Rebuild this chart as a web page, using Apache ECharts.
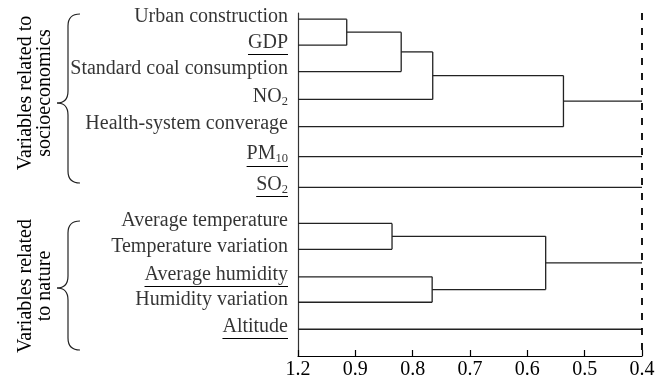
<!DOCTYPE html>
<html>
<head>
<meta charset="utf-8">
<script src="https://cdn.jsdelivr.net/npm/echarts@6/dist/echarts.min.js"></script>
<style>
html,body{margin:0;padding:0;background:#fff;}
#chart{width:658px;height:384px;}
</style>
</head>
<body>
<div id="chart"></div>
<script>
// ---------- data ----------
// leaf labels (text after "_" is a subscript)
const leafLabels = ['Urban construction', 'GDP', 'Standard coal consumption', 'NO_2',
  'Health-system converage', 'PM_10', 'SO_2', 'Average temperature',
  'Temperature variation', 'Average humidity', 'Humidity variation', 'Altitude'];
const leafUnderlined = [false, true, false, false, false, true, true, false, false, true, false, true];
// vertical position of each leaf (row units, top = 0)
const leafRows = [0.23, 1.19, 2.17, 3.20, 4.21, 5.32, 6.46, 7.79, 8.75, 9.77, 10.71, 11.71];
const rowMax = 12.7;
// merges: [childA, childB, height]; new clusters get ids 12, 13, ...
const merges = [
  [0, 1, 0.915],
  [12, 2, 0.820],
  [13, 3, 0.765],
  [14, 4, 0.537],
  [7, 8, 0.836],
  [9, 10, 0.766],
  [16, 17, 0.568]
];
const leafHeight = 1.0;   // leaf level, shown as "1.2" on the broken axis
const cutHeight = 0.4;    // cut-off (dashed line)
const xTickLabels = ['1.2', '0.9', '0.8', '0.7', '0.6', '0.5', '0.4'];
const groupTitles = ['Variables related to\nsocioeconomics', 'Variables related\nto nature'];

// ---------- build dendrogram segments ----------
const nodeX = leafRows.map(() => leafHeight);
const nodeY = leafRows.slice();
const used = new Set();
const segments = [];
merges.forEach(([a, b, h]) => {
  segments.push([nodeX[a], nodeY[a], h, nodeY[a]]);
  segments.push([nodeX[b], nodeY[b], h, nodeY[b]]);
  segments.push([h, nodeY[a], h, nodeY[b]]);
  used.add(a); used.add(b);
  nodeX.push(h);
  nodeY.push((nodeY[a] + nodeY[b]) / 2);
});
for (let i = 0; i < nodeX.length; i++) {
  if (!used.has(i)) segments.push([nodeX[i], nodeY[i], cutHeight, nodeY[i]]);
}

const FONT = '"Liberation Serif", "Times New Roman", serif';
const FS = 20;
const SUB_FS = 12.5;
const INK = '#000';
const LINE = '#222';

function splitLabel(s) {
  const k = s.indexOf('_');
  return k < 0 ? [s, ''] : [s.slice(0, k), s.slice(k + 1)];
}
const measureCtx = document.createElement('canvas').getContext('2d');
function textWidth(s, size) {
  measureCtx.font = size + 'px ' + FONT;
  return measureCtx.measureText(s).width;
}

// curly brace decoration built from simple graphic elements
function brace(xEnd, xMid, xTip, top, tip, bottom) {
  const st = {fill: null, stroke: '#222', lineWidth: 1.2};
  const r = 12;
  return {
    type: 'group',
    children: [
      {type: 'bezierCurve', shape: {x1: xEnd, y1: top, x2: xMid, y2: top + r, cpx1: xMid, cpy1: top}, style: st},
      {type: 'line', shape: {x1: xMid, y1: top + r, x2: xMid, y2: tip - r}, style: st},
      {type: 'bezierCurve', shape: {x1: xMid, y1: tip - r, x2: xTip, y2: tip, cpx1: xMid, cpy1: tip}, style: st},
      {type: 'bezierCurve', shape: {x1: xTip, y1: tip, x2: xMid, y2: tip + r, cpx1: xMid, cpy1: tip}, style: st},
      {type: 'line', shape: {x1: xMid, y1: tip + r, x2: xMid, y2: bottom - r}, style: st},
      {type: 'bezierCurve', shape: {x1: xMid, y1: bottom - r, x2: xEnd, y2: bottom, cpx1: xMid, cpy1: bottom}, style: st}
    ]
  };
}

const chart = echarts.init(document.getElementById('chart'));

const option = {
  animation: false,
  backgroundColor: '#fff',
  grid: {left: 298, right: 16, top: 13, bottom: 28, containLabel: false},
  xAxis: {
    type: 'value',
    min: 0.4, max: 1.0, interval: 0.1, inverse: true,
    axisLine: {show: true, onZero: false, lineStyle: {color: INK, width: 1.2}},
    axisTick: {show: true, inside: true, length: 6, lineStyle: {color: INK, width: 1.2}},
    splitLine: {show: false},
    axisLabel: {
      margin: 4, color: INK, fontSize: FS, fontFamily: FONT,
      formatter: v => xTickLabels[Math.round((1.0 - v) * 10)]
    }
  },
  yAxis: {
    type: 'value', min: 0, max: rowMax, inverse: true,
    axisLine: {show: true, onZero: false, lineStyle: {color: '#333', width: 1.2}},
    axisTick: {show: false}, axisLabel: {show: false}, splitLine: {show: false}
  },
  graphic: [
    brace(80, 68, 57, 14, 103, 183),
    brace(80, 68, 57, 221, 288, 350),
    {type: 'text', x: 35, y: 93, rotation: Math.PI / 2,
      style: {text: groupTitles[0], fontSize: 20, fontFamily: FONT, fill: INK, align: 'center', verticalAlign: 'middle', lineHeight: 19}},
    {type: 'text', x: 35, y: 286, rotation: Math.PI / 2,
      style: {text: groupTitles[1], fontSize: 20, fontFamily: FONT, fill: INK, align: 'center', verticalAlign: 'middle', lineHeight: 19}}
  ],
  series: [
    {
      type: 'custom',
      name: 'dendrogram',
      data: segments,
      silent: true,
      renderItem: function (params, api) {
        const p1 = api.coord([api.value(0), api.value(1)]);
        const p2 = api.coord([api.value(2), api.value(3)]);
        return {type: 'line', shape: {x1: p1[0], y1: p1[1], x2: p2[0], y2: p2[1]},
          style: {stroke: LINE, lineWidth: 1.3}};
      },
      markLine: {
        silent: true, symbol: ['none', 'none'], label: {show: false},
        lineStyle: {color: INK, width: 1.8, type: [7, 8]},
        data: [{xAxis: cutHeight}]
      }
    },
    {
      type: 'scatter',
      name: 'labels',
      symbolSize: 0,
      silent: true,
      data: leafRows.map((r, i) => [leafHeight, r, i]),
      label: {
        show: true, position: 'left', distance: 10, offset: [0, -2.5],
        formatter: p => {
          const [m, s] = splitLabel(leafLabels[p.value[2]]);
          return s ? '{m|' + m + '}{s|' + s + '}' : '{m|' + m + '}';
        },
        rich: {
          m: {fontSize: FS, fontFamily: FONT, color: INK, lineHeight: 22, verticalAlign: 'middle'},
          s: {fontSize: SUB_FS, fontFamily: FONT, color: INK, lineHeight: 12, verticalAlign: 'bottom', padding: [16, 0, 0, 0]}
        }
      }
    },
    {
      type: 'custom',
      name: 'underlines',
      silent: true,
      data: leafRows.map((r, i) => [leafHeight, r, i]).filter(d => leafUnderlined[d[2]]),
      renderItem: function (params, api) {
        const i = api.value(2);
        const pt = api.coord([api.value(0), api.value(1)]);
        const [m, s] = splitLabel(leafLabels[i]);
        const w = textWidth(m, FS) + (s ? textWidth(s, SUB_FS) : 0);
        const xr = pt[0] - 10;
        const y = Math.round(pt[1] + 9) + 0.5;
        return {type: 'line', shape: {x1: xr - w, y1: y, x2: xr, y2: y},
          style: {stroke: INK, lineWidth: 1}};
      }
    }
  ]
};
chart.setOption(option);
</script>
</body>
</html>
